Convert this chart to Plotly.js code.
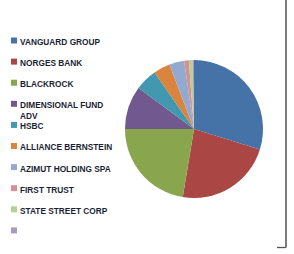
<!DOCTYPE html>
<html><head><meta charset="utf-8">
<script src="https://cdn.plot.ly/plotly-3.0.1.min.js"></script>
<style>html,body{margin:0;padding:0;background:#fff}#c{width:294px;height:254px}</style>
</head><body><div id="c"></div>
<script>
const holders = ['VANGUARD GROUP','NORGES BANK','BLACKROCK','DIMENSIONAL FUND<br>ADV','HSBC','ALLIANCE BERNSTEIN','AZIMUT HOLDING SPA','FIRST TRUST','STATE STREET CORP',''];
const shares = [29.8, 22.8, 22.4, 10.1, 5.2, 3.9, 3.5, 1.1, 0.9, 0.3];
const colors = ['#4572A7','#AA4643','#89A54E','#71588F','#4198AF','#DB843D','#93A9CF','#D19392','#B9CD96','#A99BBD'];

const W = 294, H = 254;
const px = x => x / W, py = y => 1 - y / H;

const annotations = [], shapes = [];
holders.forEach((name, i) => {
  const yc = 40.5 + i * 21.1;
  shapes.push({type:'rect', xref:'paper', yref:'paper', x0:px(11), x1:px(17), y0:py(yc+3), y1:py(yc-3),
    fillcolor: colors[i], line:{width:0}});
  if (name) annotations.push({xref:'paper', yref:'paper', x:px(17.5), y:py(yc-5.6), xanchor:'left', yanchor:'top',
    align:'left', showarrow:false, text:'<b>'+name+'</b>',
    font:{family:'Liberation Sans, Arial, sans-serif', size:8.3, color:'#1b1f33'}});
});
shapes.push({type:'line', xref:'paper', yref:'paper', x0:px(286), x1:px(286), y0:py(0), y1:py(247.5), line:{color:'#333', width:1.3}});
shapes.push({type:'line', xref:'paper', yref:'paper', x0:px(277), x1:px(286), y0:py(247.5), y1:py(247.5), line:{color:'#555', width:1.3}});

Plotly.newPlot('c', [{
  type:'pie', labels: holders.map((h,i)=> h || ('blank'+i)), values: shares, sort:false, direction:'clockwise', rotation:0,
  marker:{colors: colors, line:{width:0}}, textinfo:'none', hoverinfo:'none',
  domain:{x:[px(125), px(263)], y:[py(198), py(60)]}
}], {
  width:W, height:H, margin:{l:0,r:0,t:0,b:0}, showlegend:false,
  paper_bgcolor:'#fff', annotations: annotations, shapes: shapes
}, {staticPlot:true});
</script></body></html>
